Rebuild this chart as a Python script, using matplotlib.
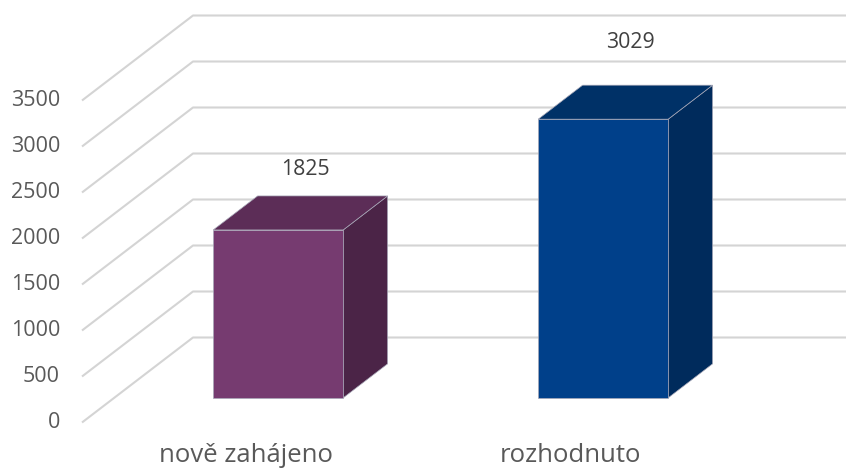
import matplotlib.pyplot as plt
from matplotlib.patches import Polygon

# data
categories = ['nově zahájeno', 'rozhodnuto']
values = [1825, 3029]
y_ticks = [0, 500, 1000, 1500, 2000, 2500, 3000, 3500]
front_colors = ['#763B70', '#00408A']
side_colors = ['#4B2447', '#002B5C']
top_colors = ['#5C2D57', '#003167']

# fake 3d projection (data units)
px_per_val = 0.092
px_per_cat = 325.0
DX = 111 / px_per_cat      # full depth shift in x
DY = 85 / px_per_val       # full depth shift in y
d0, d1 = 0.29, 0.69        # bar depth range
half_w = 0.2
wall_x = (82 - 246) / px_per_cat

fig = plt.figure(figsize=(8.46, 4.7), dpi=100)
ax = fig.add_axes([0, 0, 1, 1])
ax.set_xlim(-246 / px_per_cat, (846 - 246) / px_per_cat)
ax.set_ylim((422.5 - 470) / px_per_val, 422.5 / px_per_val)
ax.axis('off')

font = 'Open Sans'
txt_color = '#595959'

# gridlines: diagonal on the left wall, horizontal on the back wall
for t in y_ticks:
    ax.plot([wall_x, wall_x + DX, ax.get_xlim()[1]], [t, t + DY, t + DY],
            color='#D4D4D4', lw=1.5, zorder=1, solid_capstyle='butt')
    ax.text((60 - 246) / px_per_cat, t, str(t), ha='right', va='center',
            fontsize=15.5, family=font, color=txt_color)

for i, (v, fc, sc, tc) in enumerate(zip(values, front_colors, side_colors, top_colors)):
    xl = i - half_w + d0 * DX
    xr = i + half_w + d0 * DX
    yb = d0 * DY
    yt = v + d0 * DY
    ddx = (d1 - d0) * DX
    ddy = (d1 - d0) * DY
    front = [(xl, yb), (xr, yb), (xr, yt), (xl, yt)]
    side = [(xr, yb), (xr + ddx, yb + ddy), (xr + ddx, yt + ddy), (xr, yt)]
    top = [(xl, yt), (xr, yt), (xr + ddx, yt + ddy), (xl + ddx, yt + ddy)]
    for poly, c in [(side, sc), (top, tc), (front, fc)]:
        ax.add_patch(Polygon(poly, closed=True, facecolor=c, edgecolor='#A8A8B8',
                             lw=0.5, zorder=3))
    # value label above bar
    lx = i + (d0 + (d1 - d0) / 2) * DX + 5 / px_per_cat
    ly = v * 1.147 + 652
    ax.text(lx, ly, f'{v}', ha='center', va='center', fontsize=15.3,
            family=font, color='#404040', zorder=4)
    ax.text(i, (422.5 - 455) / px_per_val, categories[i], ha='center', va='center',
            fontsize=18.5, family=font, color=txt_color)

plt.savefig('out.png', dpi=100)
